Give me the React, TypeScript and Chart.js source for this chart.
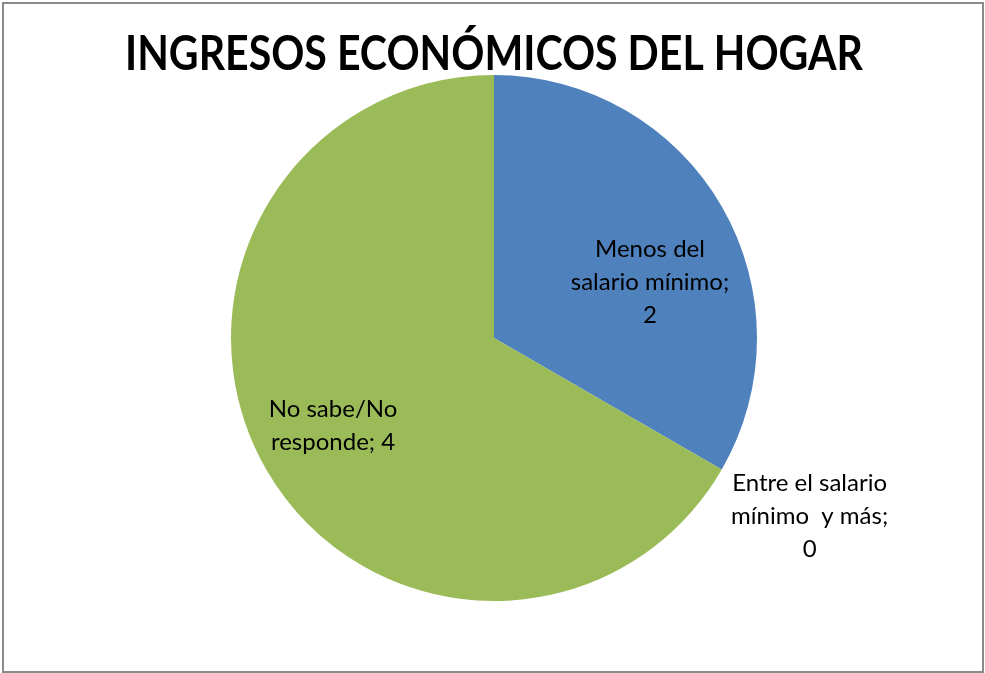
import React, { useEffect, useRef } from "react";
import { Chart, registerables } from "chart.js";

Chart.register(...registerables);

const TITLE = "INGRESOS ECONÓMICOS DEL HOGAR";
const categoryLines: string[][] = [
  ["Menos del", "salario mínimo"],
  ["Entre el salario", "mínimo  y más"],
  ["No sabe/No", "responde"],
];
const categories: string[] = categoryLines.map((l) => l.join(" "));
const values: number[] = [2, 0, 4];
const colors: string[] = ["#4F81BD", "#C0504D", "#9BBB59"];
// value placed on its own line after the category text
const valueOnOwnLine: boolean[] = [true, true, false];
// label anchor offsets relative to pie centre, in units of radius
const labelOffsetX: number[] = [0.593, 1.2, -0.612];
const labelOffsetY: number[] = [-0.213, 0.677, 0.335];

const decorPlugin = {
  id: "decor",
  afterDraw(chart: any) {
    const ctx = chart.ctx as CanvasRenderingContext2D;
    const area = chart.chartArea;
    const cx = (area.left + area.right) / 2;
    const cy = (area.top + area.bottom) / 2;
    const meta = chart.getDatasetMeta(0);
    const r = meta.data[0] ? (meta.data[0] as any).outerRadius : 0;

    ctx.save();
    // outer frame
    ctx.strokeStyle = "#8a8a8a";
    ctx.lineWidth = 2;
    ctx.strokeRect(3, 3, chart.width - 5, chart.height - 4);

    // title
    ctx.fillStyle = "#000";
    ctx.font = "bold 48px Lato";
    ctx.textBaseline = "alphabetic";
    ctx.textAlign = "left";
    const w = ctx.measureText(TITLE).width;
    const target = 738;
    const sx = target / w;
    ctx.save();
    ctx.translate(cx - target / 2, 70);
    ctx.scale(sx, 1);
    ctx.fillText(TITLE, 0, 0);
    ctx.restore();

    // data labels
    ctx.font = "24px Lato";
    ctx.textAlign = "center";
    ctx.textBaseline = "middle";
    const lh = 33;
    categories.forEach((_, i) => {
      const lines = categoryLines[i].slice();
      if (valueOnOwnLine[i]) {
        lines[lines.length - 1] = lines[lines.length - 1] + ";";
        lines.push(String(values[i]));
      } else {
        lines[lines.length - 1] = lines[lines.length - 1] + "; " + values[i];
      }
      const x = cx + labelOffsetX[i] * r;
      const y = cy + labelOffsetY[i] * r;
      const y0 = y - ((lines.length - 1) * lh) / 2;
      lines.forEach((ln, j) => ctx.fillText(ln, x, y0 + j * lh));
    });
    ctx.restore();
  },
};

export default function App() {
  const ref = useRef<HTMLCanvasElement>(null);
  useEffect(() => {
    if (!ref.current) return;
    const chart = new Chart(ref.current, {
      type: "pie",
      data: {
        labels: categories,
        datasets: [
          {
            data: values,
            backgroundColor: colors,
            borderWidth: 0,
            hoverOffset: 0,
            offset: 0,
          },
        ],
      },
      options: {
        animation: false,
        responsive: true,
        maintainAspectRatio: false,
        layout: { padding: { left: 231, right: 228, top: 75, bottom: 72 } },
        plugins: {
          legend: { display: false },
          tooltip: { enabled: false },
          title: { display: false },
        },
      },
      plugins: [decorPlugin],
    });
    return () => chart.destroy();
  }, []);
  return (
    <div
      style={{
        position: "absolute",
        left: 0,
        top: 0,
        width: 985,
        height: 673,
        background: "#fff",
      }}
    >
      <canvas ref={ref} />
    </div>
  );
}
